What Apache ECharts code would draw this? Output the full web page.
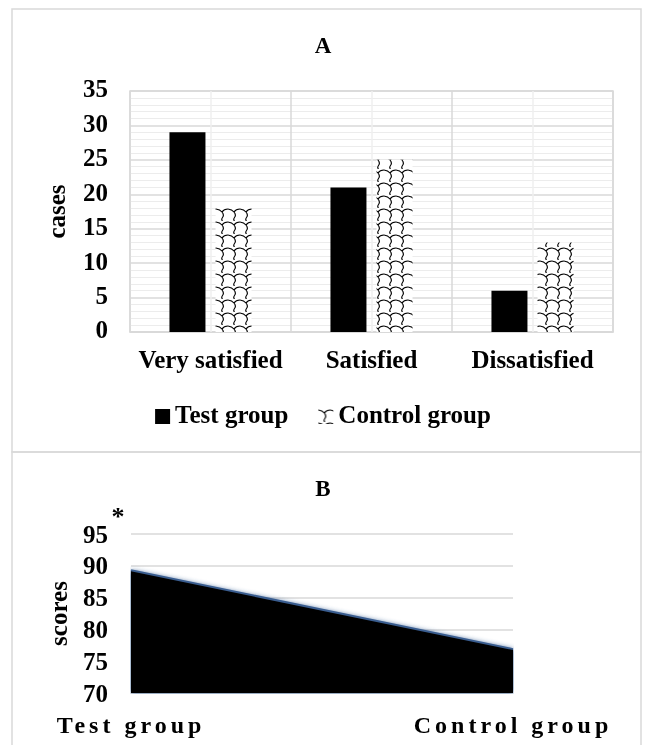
<!DOCTYPE html>
<html><head><meta charset="utf-8">
<script src="https://cdn.jsdelivr.net/npm/echarts@6/dist/echarts.min.js"></script>
<style>
html,body{margin:0;padding:0;background:#fff;}
#a,#b{position:absolute;left:0;top:0;width:646px;height:745px;}
#b{pointer-events:none;}
</style></head><body>
<div id="a"></div><div id="b"></div>
<script>
// ---- data ----
const categoriesA = ['Very satisfied', 'Satisfied', 'Dissatisfied'];
const testGroupA = [29, 21, 6];
const controlGroupA = [18, 25, 13];
const yTicksA = [0, 5, 10, 15, 20, 25, 30, 35];
const seriesNamesA = ['Test group', 'Control group'];

const categoriesB = ['Test group', 'Control group'];
const scoresB = [89.3, 76.9];
const yTicksB = [70, 75, 80, 85, 90, 95];

// ---- styles ----
const FONT = "'Liberation Serif','Times New Roman',serif";
const txt = (size) => ({ fontFamily: FONT, fontWeight: 'bold', fontSize: size, color: '#000' });

function makeWave() {
  const w = 12, h = 13;
  const c = document.createElement('canvas');
  c.width = w; c.height = h;
  const g = c.getContext('2d');
  g.fillStyle = '#fff'; g.fillRect(0, 0, w, h);
  g.strokeStyle = '#000'; g.lineWidth = 1.15;
  g.beginPath();
  g.moveTo(0, 1);
  g.quadraticCurveTo(4, 1.5, 6, 4);
  g.quadraticCurveTo(8.5, 7, 6.5, 9.5);
  g.quadraticCurveTo(5, 11.5, 6.5, 13);
  g.moveTo(6, 4);
  g.quadraticCurveTo(8, 1, 12, 1);
  g.stroke();
  return c;
}
const wave = { image: makeWave(), repeat: 'repeat' };

const chartA = echarts.init(document.getElementById('a'), null, { renderer: 'canvas' });
chartA.setOption({
  animation: false,
  backgroundColor: '#fff',
  title: { text: 'A', left: 'center', top: 36, padding: 0, textStyle: txt(23) },
  graphic: [{
    type: 'rect', silent: true, z: -1,
    shape: { x: 12, y: 9, width: 629, height: 443 },
    style: { fill: 'none', stroke: '#d9d9d9', lineWidth: 1.5 }
  }],
  legend: {
    data: seriesNamesA, left: 'center', top: 404, icon: 'rect',
    itemWidth: 15, itemHeight: 15, itemGap: 30, padding: 0,
    textStyle: txt(25)
  },
  grid: { left: 130, right: 33, top: 91, bottom: 413, show: true, borderColor: '#d9d9d9', borderWidth: 1.5, containLabel: false, outerBoundsMode: 'none' },
  xAxis: {
    type: 'category', data: categoriesA,
    axisLine: { show: true, lineStyle: { color: '#d9d9d9', width: 1.5 } },
    axisTick: { show: false },
    splitLine: { show: true, lineStyle: { color: '#d9d9d9', width: 1.5 } },
    axisLabel: Object.assign({ margin: 17, interval: 0 }, txt(25))
  },
  yAxis: {
    type: 'value', min: yTicksA[0], max: yTicksA[yTicksA.length - 1], interval: yTicksA[1] - yTicksA[0],
    name: 'cases', nameLocation: 'middle', nameGap: 59, nameRotate: 90, nameTextStyle: txt(25),
    axisLine: { show: false }, axisTick: { show: false },
    axisLabel: Object.assign({ margin: 22 }, txt(25)),
    splitLine: { show: true, lineStyle: { color: '#d9d9d9', width: 1.5 } },
    minorTick: { show: false, splitNumber: 5 },
    minorSplitLine: { show: true, lineStyle: { color: '#ececec', width: 1 } }
  },
  series: [
    {
      name: seriesNamesA[0], type: 'bar', data: testGroupA, barWidth: 36, barGap: '28%',
      itemStyle: { color: '#000' }
    },
    {
      name: seriesNamesA[1], type: 'bar', data: controlGroupA, barWidth: 36, barGap: '28%',
      itemStyle: { color: wave }
    },
    {
      name: 'centers', type: 'line', data: [], silent: true,
      markLine: {
        silent: true, symbol: ['none', 'none'], label: { show: false },
        lineStyle: { color: '#efefef', type: 'solid', width: 1.5 },
        emphasis: { disabled: true },
        data: categoriesA.map(c => ({ xAxis: c }))
      }
    }
  ]
});

const chartB = echarts.init(document.getElementById('b'), null, { renderer: 'svg' });
chartB.setOption({
  animation: false,
  backgroundColor: 'transparent',
  title: { text: 'B', left: 'center', top: 477, padding: 0, textStyle: txt(23) },
  graphic: [
    {
      type: 'rect', silent: true, z: -1,
      shape: { x: 12, y: 452, width: 629, height: 330 },
      style: { fill: 'none', stroke: '#d9d9d9', lineWidth: 1.5 }
    },
    {
      type: 'text', silent: true, x: 118, y: 516,
      style: { text: '*', font: "bold 26px " + FONT, fill: '#000', align: 'center', verticalAlign: 'middle' }
    }
  ],
  grid: { left: 131, right: 133, top: 534, bottom: 52, containLabel: false, outerBoundsMode: 'none' },
  xAxis: {
    type: 'category', data: categoriesB, boundaryGap: false,
    axisLine: { show: false }, axisTick: { show: false }, splitLine: { show: false },
    axisLabel: Object.assign({ margin: 20, interval: 0 }, txt(24))
  },
  yAxis: {
    type: 'value', min: yTicksB[0], max: yTicksB[yTicksB.length - 1], interval: yTicksB[1] - yTicksB[0],
    name: 'scores', nameLocation: 'middle', nameGap: 60, nameRotate: 90, nameTextStyle: txt(25),
    axisLine: { show: false }, axisTick: { show: false },
    axisLabel: Object.assign({ margin: 23 }, txt(25)),
    splitLine: { show: true, lineStyle: { color: '#d9d9d9', width: 1.5 } }
  },
  series: [{
    type: 'line', data: scoresB, symbol: 'none',
    lineStyle: { color: '#3a5d8f', width: 2 },
    areaStyle: { color: '#000', opacity: 1, shadowBlur: 5, shadowColor: 'rgba(50,90,145,0.95)' }
  }]
});

function spaceLabels() {
  document.querySelectorAll('#b text').forEach(t => {
    if (categoriesB.includes(t.textContent.trim())) {
      t.setAttribute('letter-spacing', '4px');
      t.style.letterSpacing = '4px';
    }
  });
}
chartB.on('finished', spaceLabels);
setTimeout(spaceLabels, 30);
setTimeout(spaceLabels, 200);
</script>
</body></html>
